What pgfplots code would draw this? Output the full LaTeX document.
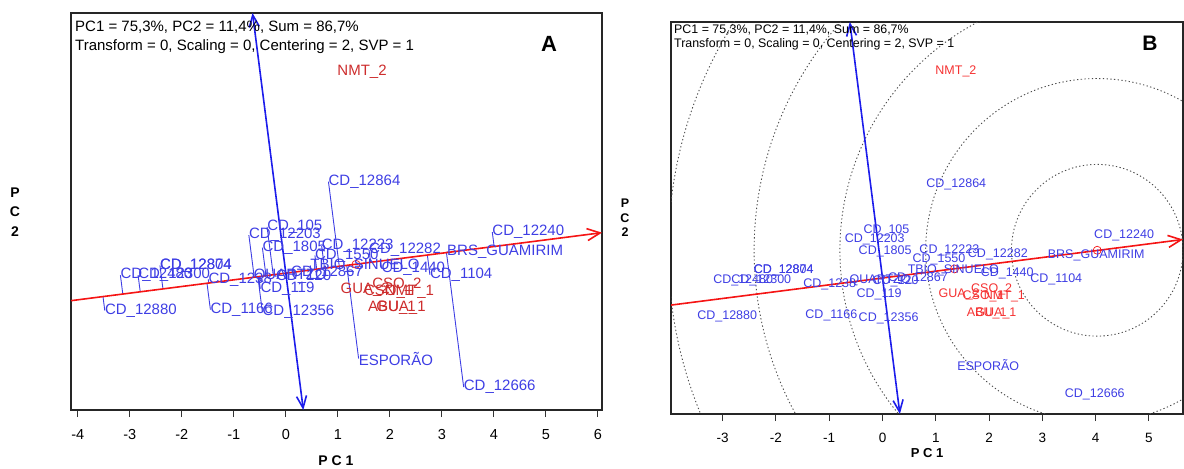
\documentclass[border=0pt]{standalone}
\usepackage{fontspec}
\setmainfont{Liberation Sans}
\usepackage{pgfplots}
\usepackage{pgfplotstable}
\pgfplotsset{compat=1.18}
\usetikzlibrary{arrows.meta}

\definecolor{genblue}{RGB}{62,62,228}
\definecolor{arrblue}{RGB}{28,28,235}
\definecolor{envredA}{RGB}{205,45,45}
\definecolor{envredB}{RGB}{245,50,50}
\definecolor{arrred}{RGB}{245,20,20}

% genotype scores (PC1, PC2)
\pgfplotstableread{
x y lab
-3.48 -0.72 CD\_12880
-3.18 -0.04 CD\_12480
-2.84 -0.04 CD\_12300
-2.42 0.15 CD\_12874
-2.42 0.15 CD\_12804
-1.49 -0.12 CD\_1238
-1.45 -0.70 CD\_1166
-0.62 -0.04 QUARTZO
-0.45 -0.75 CD\_12356
-0.49 -0.30 CD\_119
-0.71 0.73 CD\_12203
-0.36 0.89 CD\_105
-0.45 0.49 CD\_1805
-0.19 -0.07 CD\_120
0.10 0.00 CD\_12867
0.47 0.15 TBIO\_SINUELO
0.56 0.34 CD\_1550
0.69 0.52 CD\_12223
0.82 1.76 CD\_12864
1.60 0.45 CD\_12282
1.84 0.09 CD\_1440
1.40 -1.64 ESPORÃO
2.77 -0.03 CD\_1104
3.10 0.42 BRS\_GUAMIRIM
3.97 0.79 CD\_12240
3.42 -2.19 CD\_12666
}\genos

% environment scores
\pgfplotstableread{
x y lab
0.99 3.88 NMT\_2
1.05 -0.31 GUA\_2
1.66 -0.22 CSO\_2
1.50 -0.35 CSO\_1
1.90 -0.35 NMT\_1
1.58 -0.66 ABU\_1
1.74 -0.66 GUA\_1
}\envs

\pgfplotsset{
  gge/.style={
    scale only axis,
    axis line style={line width=1.5bp, black!85},
    tick style={line width=1bp, black!80},
    tick align=outside,
    major tick length=7bp,
    xtick pos=left,
    ytick=\empty,
    ymajorticks=false,
  },
}
\tikzset{circ/.style={black!70, line width=0.9bp, dash pattern=on 1.3bp off 2.4bp}}

\begin{document}
\begin{tikzpicture}
\path[use as bounding box] (0,0) rectangle (1184bp,469bp);

% ---------------- panel A: mean vs stability ----------------
\begin{axis}[gge,
  at={(71bp,59bp)}, anchor=south west,
  width=531bp, height=397bp,
  xmin=-4.13, xmax=6.08, ymin=-2.63, ymax=5.0,
  xtick={-4,-3,-2,-1,0,1,2,3,4,5,6},
  xticklabels={-4,-3,-2,-1,0,1,2,3,4,5,6},
  xticklabel style={font=\fontsize{14.5bp}{14.5bp}\selectfont, yshift=-9bp},
]
% projections of genotypes on the AEA
\addplot[genblue, line width=0.9bp, unbounded coords=jump] coordinates {
(-3.48,-0.72) (-3.515,-0.450) (nan,nan)
(-3.18,-0.04) (-3.134,-0.401) (nan,nan)
(-2.84,-0.04) (-2.799,-0.358) (nan,nan)
(-2.42,0.15) (-2.362,-0.302) (nan,nan)
(-1.49,-0.12) (-1.481,-0.190) (nan,nan)
(-1.45,-0.70) (-1.515,-0.194) (nan,nan)
(-0.62,-0.04) (-0.615,-0.079) (nan,nan)
(-0.45,-0.75) (-0.537,-0.069) (nan,nan)
(-0.49,-0.30) (-0.520,-0.067) (nan,nan)
(-0.71,0.73) (-0.607,-0.078) (nan,nan)
(-0.36,0.89) (-0.242,-0.031) (nan,nan)
(-0.45,0.49) (-0.381,-0.049) (nan,nan)
(-0.19,-0.07) (-0.196,-0.025) (nan,nan)
(0.10,0.00) (0.098,0.013) (nan,nan)
(0.47,0.15) (0.481,0.062) (nan,nan)
(0.56,0.34) (0.594,0.076) (nan,nan)
(0.69,0.52) (0.744,0.095) (nan,nan)
(0.82,1.76) (1.028,0.132) (nan,nan)
(1.60,0.45) (1.631,0.209) (nan,nan)
(1.84,0.09) (1.822,0.233) (nan,nan)
(1.40,-1.64) (1.171,0.150) (nan,nan)
(2.77,-0.03) (2.722,0.348) (nan,nan)
(3.10,0.42) (3.103,0.397) (nan,nan)
(3.97,0.79) (4.006,0.513) (nan,nan)
(3.42,-2.19) (3.089,0.395)
};
% average environment axis
\addplot[arrred, line width=1.6bp, -{Straight Barb[length=13bp,width=12bp]}] coordinates {(-4.13,-0.529) (6.08,0.778)};
\addplot[arrblue, line width=1.6bp, {Straight Barb[length=12bp,width=10bp]}-{Straight Barb[length=12bp,width=10bp]}] coordinates {(0.337,-2.63) (-0.640,5.0)};
\addplot[only marks, mark=o, mark size=4bp, arrred, line width=0.7bp] coordinates {(1.35,0.17)};
% labels
\addplot[only marks, mark=none, nodes near coords, point meta=explicit symbolic,
  nodes near coords style={anchor=west, inner sep=0pt, text=genblue, font=\fontsize{15bp}{15bp}\selectfont}]
  table[x=x, y=y, meta=lab] {\genos};
\addplot[only marks, mark=none, nodes near coords, point meta=explicit symbolic,
  nodes near coords style={anchor=west, inner sep=0pt, text=envredA, font=\fontsize{15bp}{15bp}\selectfont}]
  table[x=x, y=y, meta=lab] {\envs};
\end{axis}

% ---------------- panel B: ranking of genotypes ----------------
\begin{axis}[gge,
  at={(671bp,55bp)}, anchor=south west,
  width=512bp, height=392bp,
  xmin=-3.97, xmax=5.64, ymin=-2.55, ymax=4.80,
  xtick={-3,-2,-1,0,1,2,3,4,5},
  xticklabels={-3,-2,-1,0,1,2,3,4,5},
  xticklabel style={font=\fontsize{13.5bp}{13.5bp}\selectfont, yshift=-9bp},
]
\draw[circ] (axis cs:4.03,0.52) circle[radius=1.61];
\draw[circ] (axis cs:4.03,0.52) circle[radius=3.22];
\draw[circ] (axis cs:4.03,0.52) circle[radius=4.83];
\draw[circ] (axis cs:4.03,0.52) circle[radius=6.44];
\draw[circ] (axis cs:4.03,0.52) circle[radius=8.05];
\addplot[arrred, line width=1.6bp, -{Straight Barb[length=13bp,width=12bp]}] coordinates {(-3.97,-0.508) (5.64,0.722)};
\addplot[arrblue, line width=1.6bp, {Straight Barb[length=12bp,width=10bp]}-{Straight Barb[length=12bp,width=10bp]}] coordinates {(0.326,-2.55) (-0.614,4.80)};
\addplot[only marks, mark=o, mark size=4bp, arrred, line width=0.7bp] coordinates {(1.35,0.17) (4.03,0.52)};
\addplot[only marks, mark=none, nodes near coords, point meta=explicit symbolic,
  nodes near coords style={anchor=west, inner sep=0pt, text=genblue, font=\fontsize{12.5bp}{12.5bp}\selectfont}]
  table[x=x, y=y, meta=lab] {\genos};
\addplot[only marks, mark=none, nodes near coords, point meta=explicit symbolic,
  nodes near coords style={anchor=west, inner sep=0pt, text=envredB, font=\fontsize{12.5bp}{12.5bp}\selectfont}]
  table[x=x, y=y, meta=lab] {\envs};
\end{axis}

% titles and axis names
\node[anchor=north west, inner sep=0pt, align=left, font=\fontsize{15bp}{19bp}\selectfont] at (75bp,448.5bp)
  {PC1 = 75,3\%, PC2 = 11,4\%, Sum = 86,7\%\\Transform = 0, Scaling = 0, Centering = 2, SVP = 1};
\node[anchor=north west, inner sep=0pt, align=left, font=\fontsize{12.4bp}{14.5bp}\selectfont] at (674bp,444.5bp)
  {PC1 = 75,3\%, PC2 = 11,4\%, Sum = 86,7\%\\Transform = 0, Scaling = 0, Centering = 2, SVP = 1};
\node[font=\bfseries\fontsize{22bp}{22bp}\selectfont] at (549bp,425bp) {A};
\node[font=\bfseries\fontsize{21bp}{21bp}\selectfont] at (1150bp,426bp) {B};
\node[align=center, inner sep=0pt, font=\bfseries\fontsize{14bp}{19.5bp}\selectfont] at (15bp,257bp) {P\\C\\2};
\node[align=center, inner sep=0pt, font=\bfseries\fontsize{12.5bp}{14.5bp}\selectfont] at (625bp,251bp) {P\\C\\2};
\node[font=\bfseries\fontsize{14bp}{14bp}\selectfont] at (336bp,8.5bp) {P C 1};
\node[font=\bfseries\fontsize{13bp}{13bp}\selectfont] at (927bp,16bp) {P C 1};
\end{tikzpicture}
\end{document}
